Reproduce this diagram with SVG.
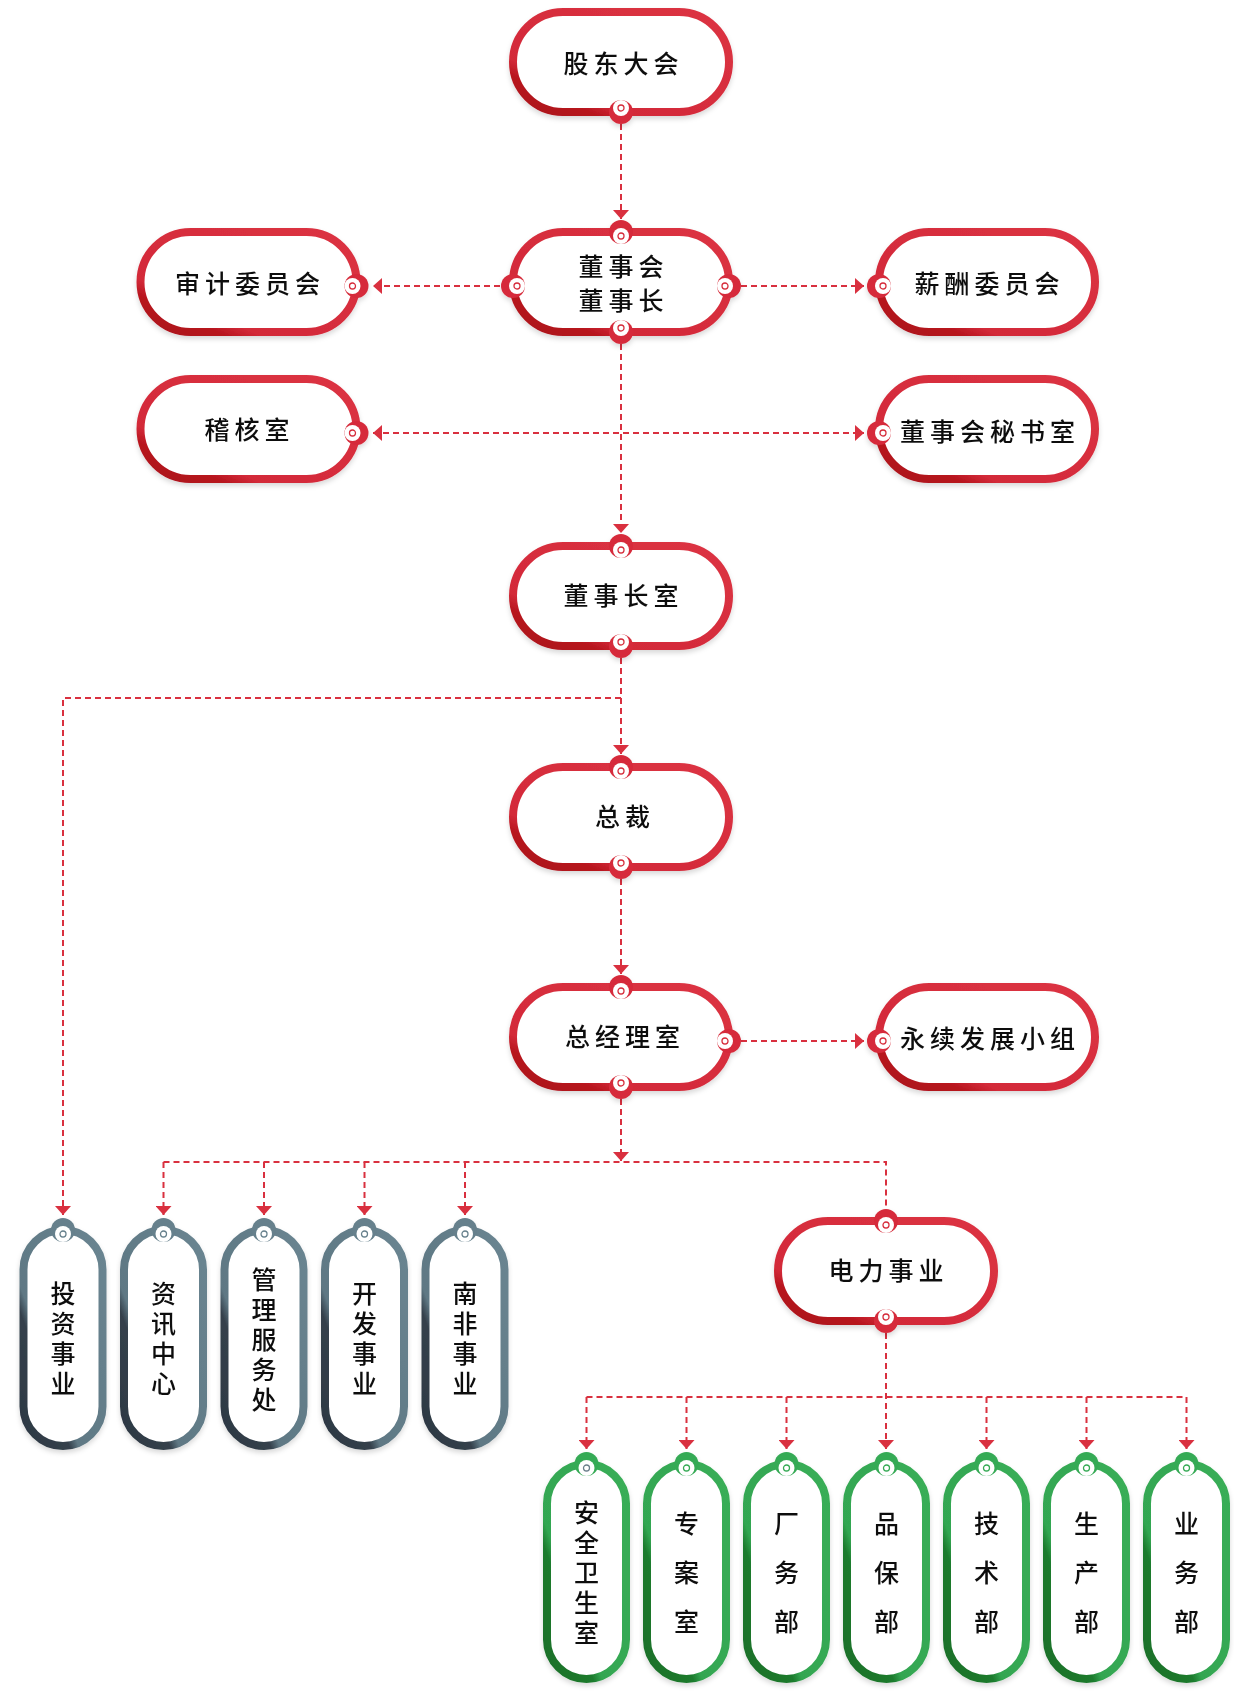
<svg xmlns="http://www.w3.org/2000/svg" xmlns:xlink="http://www.w3.org/1999/xlink" width="1250" height="1700" viewBox="0 0 1250 1700">
<defs>
<style>
.ln{fill:none;stroke:#d9303f;stroke-width:2;stroke-dasharray:6 4}
.t{font-family:"Noto Sans CJK SC","Noto Sans",sans-serif;font-size:25px;font-weight:500;fill:#111;letter-spacing:5px;text-anchor:middle;dominant-baseline:central}
.v{font-family:"Noto Sans CJK SC","Noto Sans",sans-serif;font-size:25px;font-weight:500;fill:#111;text-anchor:middle;dominant-baseline:central}
.rb{fill:#fff;stroke:url(#gr);stroke-width:8}
.gb{fill:#fff;stroke:url(#gg);stroke-width:8}
.eb{fill:#fff;stroke:url(#ge);stroke-width:8}
</style>
<linearGradient id="gr" x1="0" y1="1" x2="1" y2="0">
<stop offset="0" stop-color="#a80f19"/><stop offset="0.18" stop-color="#b8161f"/><stop offset="0.26" stop-color="#d32a39"/><stop offset="1" stop-color="#dc3343"/>
</linearGradient>
<linearGradient id="gg" x1="0" y1="1" x2="1" y2="0">
<stop offset="0" stop-color="#2c3742"/><stop offset="0.29" stop-color="#35414c"/><stop offset="0.35" stop-color="#5f7884"/><stop offset="1" stop-color="#6a8591"/>
</linearGradient>
<linearGradient id="ge" x1="0" y1="1" x2="1" y2="0">
<stop offset="0" stop-color="#196f28"/><stop offset="0.29" stop-color="#1d7b2d"/><stop offset="0.35" stop-color="#33a651"/><stop offset="1" stop-color="#3aae58"/>
</linearGradient>
<filter id="sh" x="-10%" y="-10%" width="120%" height="130%">
<feDropShadow dx="0" dy="3" stdDeviation="2.5" flood-color="#000" flood-opacity="0.15"/>
</filter>
<marker id="ar" viewBox="0 0 10 10" refX="10" refY="5" markerUnits="userSpaceOnUse" markerWidth="9" markerHeight="16" orient="auto-start-reverse" preserveAspectRatio="none">
<path d="M0,0L10,5L0,10z" fill="#d9303f"/>
</marker>
<g id="nr"><circle r="12" fill="#d62c3b"/><circle cy="4" r="8" fill="#fff"/><circle cy="4" r="3" fill="none" stroke="#d62c3b" stroke-width="1.3"/></g>
<g id="ng"><circle r="12" fill="#66808c"/><circle cy="4" r="8" fill="#fff"/><circle cy="4" r="3" fill="none" stroke="#66808c" stroke-width="1.3"/></g>
<g id="ne"><circle r="12" fill="#36aa55"/><circle cy="4" r="8" fill="#fff"/><circle cy="4" r="3" fill="none" stroke="#36aa55" stroke-width="1.3"/></g>
<g id="ne2"><circle r="12" fill="#36aa55"/><circle cy="4" r="8" fill="#fff"/><circle cy="4" r="3" fill="none" stroke="#6b7f8a" stroke-width="1.3"/></g>
</defs>
<rect width="1250" height="1700" fill="#fff"/>

<g id="connectors">
<path class="ln" d="M621,124V219" marker-end="url(#ar)"/>
<path class="ln" d="M500,286H373" marker-end="url(#ar)"/>
<path class="ln" d="M741,286H864" marker-end="url(#ar)"/>
<path class="ln" d="M373,433H864" marker-start="url(#ar)" marker-end="url(#ar)"/>
<path class="ln" d="M621,344V533" marker-end="url(#ar)"/>
<path class="ln" d="M621,658V754" marker-end="url(#ar)"/>
<path class="ln" d="M621,698H63V1215" marker-end="url(#ar)"/>
<path class="ln" d="M621,879V974" marker-end="url(#ar)"/>
<path class="ln" d="M741,1041H864" marker-end="url(#ar)"/>
<path class="ln" d="M621,1099V1161" marker-end="url(#ar)"/>
<path class="ln" d="M163.5,1162H886V1209"/>
<path class="ln" d="M163.5,1162V1215" marker-end="url(#ar)"/>
<path class="ln" d="M264,1162V1215" marker-end="url(#ar)"/>
<path class="ln" d="M364.5,1162V1215" marker-end="url(#ar)"/>
<path class="ln" d="M465,1162V1215" marker-end="url(#ar)"/>
<path class="ln" d="M886,1333V1449" marker-end="url(#ar)"/>
<path class="ln" d="M586.5,1397H1186.5"/>
<path class="ln" d="M586.5,1397V1449" marker-end="url(#ar)"/>
<path class="ln" d="M686.5,1397V1449" marker-end="url(#ar)"/>
<path class="ln" d="M786.5,1397V1449" marker-end="url(#ar)"/>
<path class="ln" d="M986.5,1397V1449" marker-end="url(#ar)"/>
<path class="ln" d="M1086.5,1397V1449" marker-end="url(#ar)"/>
<path class="ln" d="M1186.5,1397V1449" marker-end="url(#ar)"/>
</g>

<g id="n-gudong" filter="url(#sh)">
<rect class="rb" x="513" y="12" width="216" height="100" rx="50"/>
<use href="#nr" transform="translate(621,112) rotate(180)"/>
<text class="t" x="623.5" y="62">股东大会</text>
</g>
<g id="n-dongshihui" filter="url(#sh)">
<rect class="rb" x="513" y="232" width="216" height="100" rx="50"/>
<use href="#nr" transform="translate(621,232)"/>
<use href="#nr" transform="translate(621,332) rotate(180)"/>
<use href="#nr" transform="translate(513,286) rotate(-90)"/>
<use href="#nr" transform="translate(729,286) rotate(90)"/>
<text class="t" x="623.5" y="265">董事会</text>
<text class="t" x="623.5" y="299">董事长</text>
</g>
<g id="n-shenji" filter="url(#sh)">
<rect class="rb" x="140.5" y="232" width="216" height="100" rx="50"/>
<use href="#nr" transform="translate(356.5,286) rotate(90)"/>
<text class="t" x="250" y="282">审计委员会</text>
</g>
<g id="n-xinchou" filter="url(#sh)">
<rect class="rb" x="879" y="232" width="216" height="100" rx="50"/>
<use href="#nr" transform="translate(879,286) rotate(-90)"/>
<text class="t" x="989.5" y="282">薪酬委员会</text>
</g>
<g id="n-jihe" filter="url(#sh)">
<rect class="rb" x="140.5" y="379" width="216" height="100" rx="50"/>
<use href="#nr" transform="translate(356.5,433) rotate(90)"/>
<text class="t" x="249.5" y="428">稽核室</text>
</g>
<g id="n-mishu" filter="url(#sh)">
<rect class="rb" x="879" y="379" width="216" height="100" rx="50"/>
<use href="#nr" transform="translate(879,433) rotate(-90)"/>
<text class="t" x="990" y="430">董事会秘书室</text>
</g>
<g id="n-dongshizhangshi" filter="url(#sh)">
<rect class="rb" x="513" y="546" width="216" height="100" rx="50"/>
<use href="#nr" transform="translate(621,546)"/>
<use href="#nr" transform="translate(621,646) rotate(180)"/>
<text class="t" x="623.5" y="594">董事长室</text>
</g>
<g id="n-zongcai" filter="url(#sh)">
<rect class="rb" x="513" y="767" width="216" height="100" rx="50"/>
<use href="#nr" transform="translate(621,767)"/>
<use href="#nr" transform="translate(621,867) rotate(180)"/>
<text class="t" x="625" y="815">总裁</text>
</g>
<g id="n-zongjingli" filter="url(#sh)">
<rect class="rb" x="513" y="987" width="216" height="100" rx="50"/>
<use href="#nr" transform="translate(621,987)"/>
<use href="#nr" transform="translate(621,1087) rotate(180)"/>
<use href="#nr" transform="translate(729,1041) rotate(90)"/>
<text class="t" x="625" y="1035">总经理室</text>
</g>
<g id="n-yongxu" filter="url(#sh)">
<rect class="rb" x="879" y="987" width="216" height="100" rx="50"/>
<use href="#nr" transform="translate(879,1041) rotate(-90)"/>
<text class="t" x="990" y="1037">永续发展小组</text>
</g>
<g id="n-dianli" filter="url(#sh)">
<rect class="rb" x="778" y="1221" width="216" height="100" rx="50"/>
<use href="#nr" transform="translate(886,1221)"/>
<use href="#nr" transform="translate(886,1321) rotate(180)"/>
<text class="t" x="888.5" y="1269">电力事业</text>
</g>

<g id="n-touzi" filter="url(#sh)">
<rect class="gb" x="23.5" y="1230" width="79" height="216" rx="39.5"/>
<use href="#ng" transform="translate(63,1230)"/>
<text class="v" x="63" y="1292">投</text><text class="v" x="63" y="1322">资</text><text class="v" x="63" y="1352">事</text><text class="v" x="63" y="1382">业</text>
</g>
<g id="n-zixun" filter="url(#sh)">
<rect class="gb" x="124" y="1230" width="79" height="216" rx="39.5"/>
<use href="#ng" transform="translate(163.5,1230)"/>
<text class="v" x="163.5" y="1292">资</text><text class="v" x="163.5" y="1322">讯</text><text class="v" x="163.5" y="1352">中</text><text class="v" x="163.5" y="1382">心</text>
</g>
<g id="n-guanli" filter="url(#sh)">
<rect class="gb" x="224.5" y="1230" width="79" height="216" rx="39.5"/>
<use href="#ng" transform="translate(264,1230)"/>
<text class="v" x="264" y="1278">管</text><text class="v" x="264" y="1308">理</text><text class="v" x="264" y="1338">服</text><text class="v" x="264" y="1368">务</text><text class="v" x="264" y="1398">处</text>
</g>
<g id="n-kaifa" filter="url(#sh)">
<rect class="gb" x="325" y="1230" width="79" height="216" rx="39.5"/>
<use href="#ng" transform="translate(364.5,1230)"/>
<text class="v" x="364.5" y="1292">开</text><text class="v" x="364.5" y="1322">发</text><text class="v" x="364.5" y="1352">事</text><text class="v" x="364.5" y="1382">业</text>
</g>
<g id="n-nanfei" filter="url(#sh)">
<rect class="gb" x="425.5" y="1230" width="79" height="216" rx="39.5"/>
<use href="#ng" transform="translate(465,1230)"/>
<text class="v" x="465" y="1292">南</text><text class="v" x="465" y="1322">非</text><text class="v" x="465" y="1352">事</text><text class="v" x="465" y="1382">业</text>
</g>

<g id="n-anquan" filter="url(#sh)">
<rect class="eb" x="547" y="1464" width="79" height="215" rx="39.5"/>
<use href="#ne2" transform="translate(586.5,1464)"/>
<text class="v" x="586.5" y="1511">安</text><text class="v" x="586.5" y="1541">全</text><text class="v" x="586.5" y="1571">卫</text><text class="v" x="586.5" y="1601">生</text><text class="v" x="586.5" y="1631">室</text>
</g>
<g id="n-zhuanan" filter="url(#sh)">
<rect class="eb" x="647" y="1464" width="79" height="215" rx="39.5"/>
<use href="#ne" transform="translate(686.5,1464)"/>
<text class="v" x="686.5" y="1522">专</text><text class="v" x="686.5" y="1571">案</text><text class="v" x="686.5" y="1620">室</text>
</g>
<g id="n-changwu" filter="url(#sh)">
<rect class="eb" x="747" y="1464" width="79" height="215" rx="39.5"/>
<use href="#ne" transform="translate(786.5,1464)"/>
<text class="v" x="786.5" y="1522">厂</text><text class="v" x="786.5" y="1571">务</text><text class="v" x="786.5" y="1620">部</text>
</g>
<g id="n-pinbao" filter="url(#sh)">
<rect class="eb" x="847" y="1464" width="79" height="215" rx="39.5"/>
<use href="#ne" transform="translate(886.5,1464)"/>
<text class="v" x="886.5" y="1522">品</text><text class="v" x="886.5" y="1571">保</text><text class="v" x="886.5" y="1620">部</text>
</g>
<g id="n-jishu" filter="url(#sh)">
<rect class="eb" x="947" y="1464" width="79" height="215" rx="39.5"/>
<use href="#ne" transform="translate(986.5,1464)"/>
<text class="v" x="986.5" y="1522">技</text><text class="v" x="986.5" y="1571">术</text><text class="v" x="986.5" y="1620">部</text>
</g>
<g id="n-shengchan" filter="url(#sh)">
<rect class="eb" x="1047" y="1464" width="79" height="215" rx="39.5"/>
<use href="#ne" transform="translate(1086.5,1464)"/>
<text class="v" x="1086.5" y="1522">生</text><text class="v" x="1086.5" y="1571">产</text><text class="v" x="1086.5" y="1620">部</text>
</g>
<g id="n-yewu" filter="url(#sh)">
<rect class="eb" x="1147" y="1464" width="79" height="215" rx="39.5"/>
<use href="#ne" transform="translate(1186.5,1464)"/>
<text class="v" x="1186.5" y="1522">业</text><text class="v" x="1186.5" y="1571">务</text><text class="v" x="1186.5" y="1620">部</text>
</g>
</svg>
